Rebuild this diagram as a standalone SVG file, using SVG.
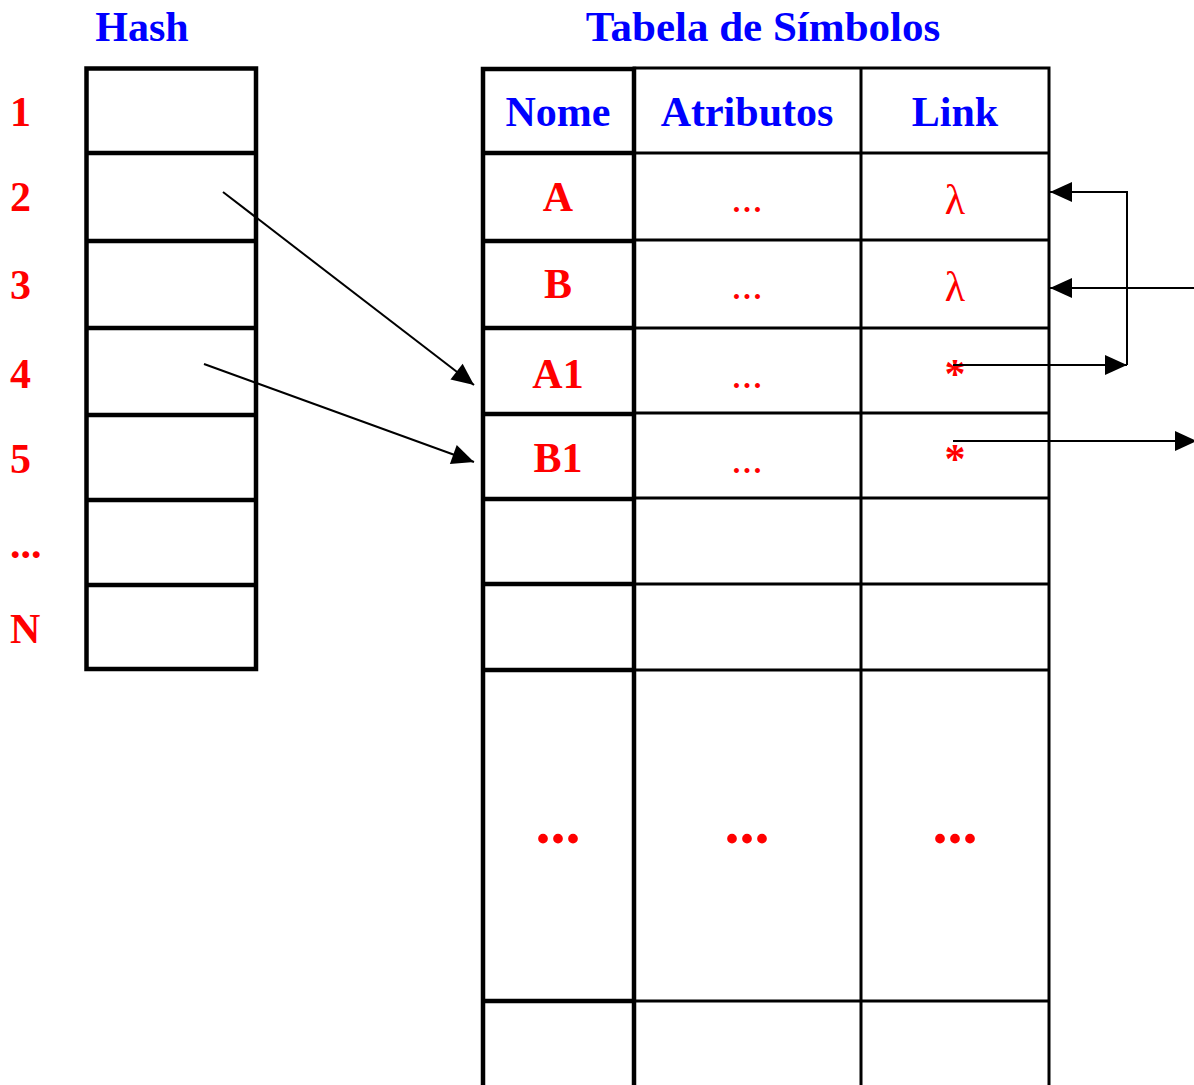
<svg xmlns="http://www.w3.org/2000/svg" width="1194" height="1085" viewBox="0 0 1194 1085">
  <style>
    .title { font-family: "Liberation Serif", "Times New Roman", serif; font-weight: bold; font-size: 42px; fill: #0000ff; }
    .lbl { font-family: "Liberation Serif", "Times New Roman", serif; font-weight: bold; font-size: 42px; fill: #ff0000; }
    .reg { font-family: "Liberation Serif", "Times New Roman", serif; font-size: 42px; fill: #ff0000; text-anchor: middle; }
    .big { font-family: "Liberation Serif", "Times New Roman", serif; font-weight: bold; font-size: 60px; fill: #ff0000; text-anchor: middle; }
    .mid { text-anchor: middle; }
    .hcell { fill: none; stroke: #000; stroke-width: 4.5; }
    .ncell { fill: none; stroke: #000; stroke-width: 4.5; }
    .thin { fill: none; stroke: #000; stroke-width: 3; }
    .conn { fill: none; stroke: #000; stroke-width: 2; }
  </style>
  <defs>
    <marker id="arrow" markerUnits="userSpaceOnUse" markerWidth="24" markerHeight="22" refX="23" refY="11" orient="auto">
      <path d="M1,1 L23,11 L1,21 Z" fill="#000"/>
    </marker>
  </defs>
  <rect width="1194" height="1085" fill="#fff"/>

  <!-- titles -->
  <text class="title mid" x="142" y="41">Hash</text>
  <text class="title mid" x="763" y="41" style="font-size:43px">Tabela de Símbolos</text>

  <!-- hash table -->
  <g id="hash">
    <rect class="hcell" x="86.5" y="68.5" width="169.5" height="600.5"/>
    <line class="hcell" x1="86.5" y1="153" x2="256" y2="153"/>
    <line class="hcell" x1="86.5" y1="241" x2="256" y2="241"/>
    <line class="hcell" x1="86.5" y1="328" x2="256" y2="328"/>
    <line class="hcell" x1="86.5" y1="415" x2="256" y2="415"/>
    <line class="hcell" x1="86.5" y1="500" x2="256" y2="500"/>
    <line class="hcell" x1="86.5" y1="585" x2="256" y2="585"/>
  </g>
  <g id="hash-index">
    <text class="lbl" x="10" y="126">1</text>
    <text class="lbl" x="10" y="211">2</text>
    <text class="lbl" x="10" y="299">3</text>
    <text class="lbl" x="10" y="388">4</text>
    <text class="lbl" x="10" y="473">5</text>
    <text class="lbl" x="10" y="558">...</text>
    <text class="lbl" x="10" y="643">N</text>
  </g>

  <!-- symbol table -->
  <g id="symtab">
    <g id="symtab-grid">
      <!-- thin frame for the attribute and link columns -->
      <rect class="thin" x="634" y="68" width="415" height="1030"/>
      <line class="thin" x1="861" y1="68" x2="861" y2="1090"/>
      <line class="thin" x1="634" y1="153" x2="1049" y2="153"/>
      <line class="thin" x1="634" y1="240" x2="1049" y2="240"/>
      <line class="thin" x1="634" y1="328" x2="1049" y2="328"/>
      <line class="thin" x1="634" y1="413" x2="1049" y2="413"/>
      <line class="thin" x1="634" y1="498" x2="1049" y2="498"/>
      <line class="thin" x1="634" y1="584" x2="1049" y2="584"/>
      <line class="thin" x1="634" y1="670" x2="1049" y2="670"/>
      <line class="thin" x1="634" y1="1001" x2="1049" y2="1001"/>
      <!-- name column, heavier rule -->
      <rect class="ncell" x="483" y="69" width="151" height="1030"/>
      <line class="ncell" x1="483" y1="153" x2="634" y2="153"/>
      <line class="ncell" x1="483" y1="241" x2="634" y2="241"/>
      <line class="ncell" x1="483" y1="328" x2="634" y2="328"/>
      <line class="ncell" x1="483" y1="414" x2="634" y2="414"/>
      <line class="ncell" x1="483" y1="499" x2="634" y2="499"/>
      <line class="ncell" x1="483" y1="584" x2="634" y2="584"/>
      <line class="ncell" x1="483" y1="670" x2="634" y2="670"/>
      <line class="ncell" x1="483" y1="1001" x2="634" y2="1001"/>
    </g>
    <g id="row-header">
      <text class="title mid" x="558" y="126">Nome</text>
      <text class="title mid" x="747" y="126">Atributos</text>
      <text class="title mid" x="955" y="126">Link</text>
    </g>
    <g id="row-A">
      <text class="lbl mid" x="558" y="211">A</text>
      <text class="reg" x="747" y="212">...</text>
      <text class="reg" x="955" y="214">λ</text>
    </g>
    <g id="row-B">
      <text class="lbl mid" x="558" y="298">B</text>
      <text class="reg" x="747" y="299">...</text>
      <text class="reg" x="955" y="301">λ</text>
    </g>
    <g id="row-A1">
      <text class="lbl mid" x="558" y="388">A1</text>
      <text class="reg" x="747" y="388">...</text>
      <text class="lbl mid" x="955" y="388">*</text>
    </g>
    <g id="row-B1">
      <text class="lbl mid" x="558" y="472">B1</text>
      <text class="reg" x="747" y="473">...</text>
      <text class="lbl mid" x="955" y="473">*</text>
    </g>
    <g id="row-more">
      <text class="big" x="558" y="843">...</text>
      <text class="big" x="747" y="843">...</text>
      <text class="big" x="955" y="843">...</text>
    </g>
  </g>

  <!-- connectors -->
  <g id="connectors">
    <line class="conn" x1="223" y1="192" x2="474" y2="385" marker-end="url(#arrow)"/>
    <line class="conn" x1="204" y1="364" x2="474" y2="462" marker-end="url(#arrow)"/>
    <line class="conn" x1="953" y1="365" x2="1127" y2="365" marker-end="url(#arrow)"/>
    <polyline class="conn" points="1127,365 1127,192 1050,192" marker-end="url(#arrow)"/>
    <line class="conn" x1="1196" y1="288" x2="1050" y2="288" marker-end="url(#arrow)"/>
    <line class="conn" x1="953" y1="441" x2="1197" y2="441" marker-end="url(#arrow)"/>
  </g>
</svg>
